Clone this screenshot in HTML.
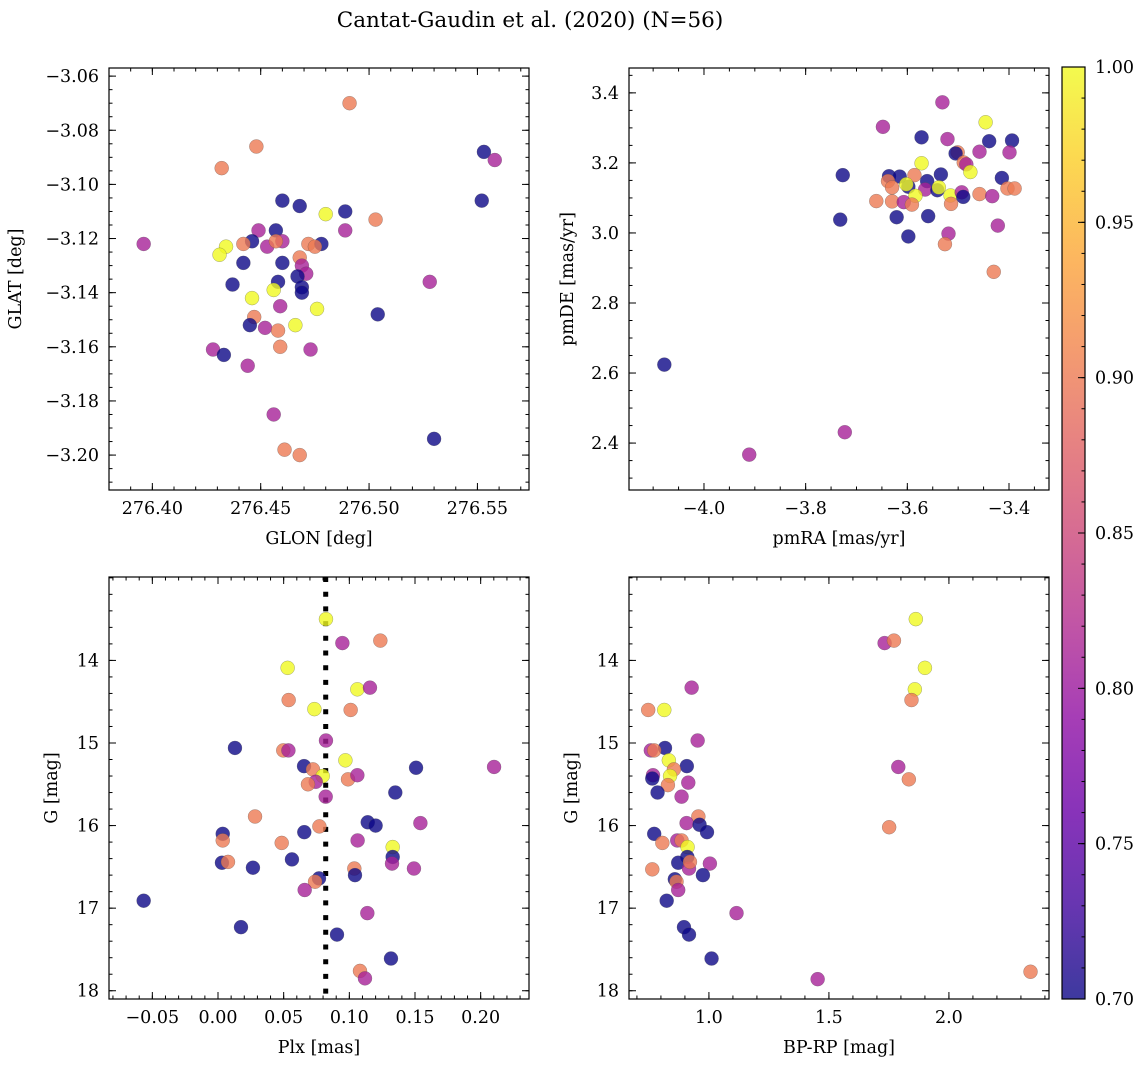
<!DOCTYPE html>
<html><head><meta charset="utf-8">
<style>
html,body{margin:0;padding:0;background:#fff;}
svg{display:block;font-family:"DejaVu Serif","Liberation Serif",serif;}
</style></head>
<body>
<svg id="fig" width="1148" height="1067" viewBox="0 0 1148 1067" xmlns="http://www.w3.org/2000/svg">
<defs>
<linearGradient id="plasma" x1="0" y1="1" x2="0" y2="0">
<stop offset="0" stop-color="#0d0887" stop-opacity="0.8"/>
<stop offset="0.1" stop-color="#41049d" stop-opacity="0.8"/>
<stop offset="0.2" stop-color="#6a00a8" stop-opacity="0.8"/>
<stop offset="0.3" stop-color="#8f0da4" stop-opacity="0.8"/>
<stop offset="0.4" stop-color="#b12a90" stop-opacity="0.8"/>
<stop offset="0.5" stop-color="#cc4778" stop-opacity="0.8"/>
<stop offset="0.6" stop-color="#e16462" stop-opacity="0.8"/>
<stop offset="0.7" stop-color="#f2844b" stop-opacity="0.8"/>
<stop offset="0.8" stop-color="#fca636" stop-opacity="0.8"/>
<stop offset="0.9" stop-color="#fcce25" stop-opacity="0.8"/>
<stop offset="1" stop-color="#f0f921" stop-opacity="0.8"/>
</linearGradient>
</defs>
<text x="530" y="27" font-size="21.5" text-anchor="middle">Cantat-Gaudin et al. (2020) (N=56)</text>
</svg>
<script>
// ---------- data ----------
const B=0.70,M=0.81,S=0.90,Y=1.0;
// Panel 1: GLON vs GLAT
const p1Glon=[276.491,276.448,276.432,276.553,276.558,276.552,276.460,276.468,276.480,276.489,276.503,276.489,276.449,276.457,276.396,276.446,276.442,276.453,276.460,276.457,276.434,276.431,276.472,276.478,276.475,276.442,276.460,276.468,276.469,276.471,276.437,276.458,276.467,276.469,276.469,276.456,276.446,276.528,276.459,276.476,276.504,276.447,276.445,276.452,276.466,276.458,276.459,276.473,276.428,276.433,276.444,276.456,276.530,276.461,276.468];
const p1Glat=[-3.070,-3.086,-3.094,-3.088,-3.091,-3.106,-3.106,-3.108,-3.111,-3.110,-3.113,-3.117,-3.117,-3.117,-3.122,-3.121,-3.122,-3.123,-3.121,-3.121,-3.123,-3.126,-3.122,-3.122,-3.123,-3.129,-3.129,-3.127,-3.130,-3.133,-3.137,-3.136,-3.134,-3.138,-3.140,-3.139,-3.142,-3.136,-3.145,-3.146,-3.148,-3.149,-3.152,-3.153,-3.152,-3.154,-3.160,-3.161,-3.161,-3.163,-3.167,-3.185,-3.194,-3.198,-3.200];
const p1Prob=[S,S,S,B,M,B,B,B,Y,B,S,M,M,B,M,B,S,M,M,S,Y,Y,S,B,S,B,B,S,M,M,B,B,B,B,B,Y,Y,M,M,Y,B,S,B,M,Y,S,S,M,M,B,M,M,B,S,S];
// Panel 2: pmRA vs pmDE
const p2Pmra=[-3.531,-3.648,-3.446,-3.572,-3.521,-3.439,-3.394,-3.501,-3.505,-3.458,-3.399,-3.572,-3.489,-3.484,-3.476,-3.727,-3.636,-3.615,-3.586,-3.534,-3.414,-3.638,-3.561,-3.630,-3.598,-3.602,-3.565,-3.541,-3.538,-3.403,-3.389,-3.584,-3.515,-3.493,-3.490,-3.458,-3.433,-3.661,-3.630,-3.607,-3.591,-3.514,-3.621,-3.559,-3.732,-3.422,-3.519,-3.598,-3.526,-3.430,-4.078,-3.723,-3.911];
const p2Pmde=[3.373,3.303,3.316,3.273,3.268,3.262,3.264,3.230,3.227,3.232,3.230,3.199,3.201,3.196,3.174,3.165,3.162,3.161,3.165,3.167,3.157,3.148,3.148,3.130,3.132,3.139,3.124,3.122,3.130,3.127,3.127,3.106,3.107,3.116,3.103,3.111,3.105,3.091,3.090,3.088,3.081,3.083,3.045,3.048,3.038,3.021,2.998,2.990,2.968,2.889,2.624,2.431,2.367];
const p2Prob=[M,M,Y,B,M,B,B,S,B,M,M,Y,S,M,Y,B,B,B,S,B,B,S,B,S,B,Y,M,B,Y,S,S,Y,Y,M,B,S,M,S,S,M,S,S,B,B,B,M,M,B,S,S,B,M,M];
// Panel 3: Plx vs G
const p3Plx=[0.0822,0.0947,0.1236,0.0530,0.1061,0.1157,0.0538,0.0734,0.1010,0.0822,0.0129,0.0497,0.0536,0.0970,0.0655,0.0723,0.1508,0.2102,0.0797,0.0744,0.0685,0.0990,0.1061,0.0820,0.1350,0.0282,0.1140,0.1200,0.1541,0.0036,0.0036,0.0657,0.0772,0.0485,0.1063,0.1330,0.1330,0.1325,0.0563,0.0030,0.0076,0.0266,0.1492,0.1038,0.1043,0.0769,0.0739,0.0660,-0.0566,0.1137,0.0175,0.0906,0.1317,0.1081,0.1119];
const p3G=[13.50,13.79,13.76,14.09,14.35,14.33,14.48,14.59,14.60,14.97,15.06,15.09,15.09,15.21,15.28,15.32,15.30,15.29,15.40,15.47,15.50,15.44,15.39,15.65,15.60,15.89,15.96,16.00,15.97,16.10,16.18,16.08,16.01,16.21,16.18,16.26,16.38,16.46,16.41,16.45,16.44,16.51,16.52,16.52,16.60,16.64,16.68,16.78,16.91,17.06,17.23,17.32,17.61,17.76,17.85];
const p3Prob=[Y,M,S,Y,Y,M,S,Y,S,M,B,S,M,Y,B,S,B,M,Y,M,S,S,M,M,B,S,B,B,M,B,S,B,S,S,M,Y,B,M,B,B,S,B,M,S,B,B,S,M,B,M,B,B,B,S,M];
// Panel 4: BP-RP vs G
const p4Bprp=[1.862,1.732,1.771,1.900,0.928,1.858,1.844,0.747,0.814,0.953,0.817,0.758,0.772,0.833,0.908,1.789,0.854,0.767,0.764,0.838,1.833,0.829,0.914,0.786,0.886,0.956,0.907,0.961,0.992,1.751,0.772,0.806,0.868,0.886,0.911,0.910,0.872,0.917,0.921,1.004,0.764,0.975,0.858,0.865,0.872,0.824,1.115,0.896,0.917,1.011,1.453,2.340];
const p4G=[13.50,13.79,13.76,14.09,14.33,14.35,14.48,14.60,14.60,14.97,15.06,15.09,15.09,15.21,15.28,15.29,15.32,15.39,15.43,15.40,15.44,15.51,15.48,15.60,15.65,15.89,15.97,15.99,16.08,16.02,16.10,16.21,16.18,16.18,16.26,16.38,16.45,16.52,16.44,16.46,16.53,16.60,16.65,16.68,16.78,16.91,17.06,17.23,17.32,17.61,17.86,17.77];
const p4Prob=[Y,M,S,Y,M,Y,S,S,Y,M,B,M,S,Y,B,M,S,M,B,Y,S,S,M,B,M,S,M,B,B,S,B,S,M,S,Y,B,B,M,S,M,S,B,B,S,M,B,M,B,B,B,M,S];
// tick values
const p1XTicks=[276.40,276.45,276.50,276.55];
const p1YTicks=[-3.06,-3.08,-3.10,-3.12,-3.14,-3.16,-3.18,-3.20];
const p2XTicks=[-4.0,-3.8,-3.6,-3.4];
const p2YTicks=[2.4,2.6,2.8,3.0,3.2,3.4];
const p3XTicks=[-0.05,0.00,0.05,0.10,0.15,0.20];
const gTicks=[14,15,16,17,18];
const p4XTicks=[1.0,1.5,2.0];
const cbTicks=[0.70,0.75,0.80,0.85,0.90,0.95,1.00];
const plxCut=0.082;

// ---------- helpers ----------
const NS="http://www.w3.org/2000/svg";
const svg=document.getElementById('fig');
const FS=17.5;
function el(tag,attrs,parent){const e=document.createElementNS(NS,tag);for(const k in attrs)e.setAttribute(k,attrs[k]);(parent||svg).appendChild(e);return e;}
const stops=[[13,8,135],[65,4,157],[106,0,168],[143,13,164],[177,42,144],[204,71,120],[225,100,98],[242,132,75],[252,166,54],[252,206,37],[240,249,33]];
function plasma(t){t=Math.max(0,Math.min(1,t));const f=t*10,i=Math.min(9,Math.floor(f)),u=f-i;const a=stops[i],b=stops[i+1];return 'rgb('+a.map((v,k)=>Math.round(v+(b[k]-v)*u)).join(',')+')';}
function fmtMinus(s){return s.replace('-','\u2212');}

function panel(cfg){
  const g=el('g',{});
  
  
  const sx=v=>cfg.x0+(v-cfg.xmin)/(cfg.xmax-cfg.xmin)*cfg.w;
  const sy=cfg.invert?(v=>cfg.y0+(v-cfg.ymin)/(cfg.ymax-cfg.ymin)*cfg.h):(v=>cfg.y0+cfg.h-(v-cfg.ymin)/(cfg.ymax-cfg.ymin)*cfg.h);
  const tg=el('g',{stroke:'#000','stroke-width':1},g);
  
  
  for(let v=Math.ceil(cfg.xmin/cfg.xminor)*cfg.xminor;v<=cfg.xmax;v+=cfg.xminor){const x=sx(v);
    el('line',{x1:x,x2:x,y1:cfg.y0+cfg.h,y2:cfg.y0+cfg.h-3.5},tg);el('line',{x1:x,x2:x,y1:cfg.y0,y2:cfg.y0+3.5},tg);}
  for(let v=Math.ceil(cfg.ymin/cfg.yminor)*cfg.yminor;v<=cfg.ymax;v+=cfg.yminor){const y=sy(v);
    el('line',{x1:cfg.x0,x2:cfg.x0+3.5,y1:y,y2:y},tg);el('line',{x1:cfg.x0+cfg.w,x2:cfg.x0+cfg.w-3.5,y1:y,y2:y},tg);}
  cfg.xt.forEach(v=>{const x=sx(v);
    el('line',{x1:x,x2:x,y1:cfg.y0+cfg.h,y2:cfg.y0+cfg.h-7},tg);el('line',{x1:x,x2:x,y1:cfg.y0,y2:cfg.y0+7},tg);
    const t=el('text',{x:x,y:cfg.y0+cfg.h+24,'font-size':FS,'text-anchor':'middle'},g);
    
    
    t.textContent=fmtMinus(v.toFixed(cfg.xdec));});
  cfg.yt.forEach(v=>{const y=sy(v);
    el('line',{x1:cfg.x0,x2:cfg.x0+7,y1:y,y2:y},tg);el('line',{x1:cfg.x0+cfg.w,x2:cfg.x0+cfg.w-7,y1:y,y2:y},tg);
    const t=el('text',{x:cfg.x0-10,y:y+6,'font-size':FS,'text-anchor':'end'},g);
    
    
    t.textContent=fmtMinus(v.toFixed(cfg.ydec));});
  if(cfg.vline!==undefined){const x=sx(cfg.vline);
    const l=el('line',{x1:x,x2:x,y1:cfg.y0,y2:cfg.y0+cfg.h,stroke:'#000','stroke-width':5,'stroke-dasharray':'5 9.7'},g);
    
    }
  const pg=el('g',{},g);
  
  
  for(let i=0;i<cfg.xs.length;i++){
    const c=el('circle',{cx:sx(cfg.xs[i]),cy:sy(cfg.ys[i]),r:7,fill:plasma((cfg.cs[i]-0.7)/0.3),'fill-opacity':0.8,stroke:'rgba(80,80,80,0.5)','stroke-width':0.5},pg);
    
    
  }
  const fr=el('rect',{x:cfg.x0,y:cfg.y0,width:cfg.w,height:cfg.h,fill:'none',stroke:'#000','stroke-width':1.2},g);
  
  
  const xl=el('text',{x:cfg.x0+cfg.w/2,y:cfg.y0+cfg.h+54,'font-size':FS,'text-anchor':'middle'},g);
  
  
  xl.textContent=cfg.xlabel;
  const yx=cfg.ylx,yy=cfg.y0+cfg.h/2;
  const yl=el('text',{x:yx,y:yy,'font-size':FS,'text-anchor':'middle',transform:'rotate(-90 '+yx+' '+yy+')'},g);
  
  
  yl.textContent=cfg.ylabel;
}

panel({name:'glon-glat-panel',x0:109,y0:68,w:420,h:422,xmin:276.380,xmax:276.5738,ymin:-3.2129,ymax:-3.0570,xminor:0.01,yminor:0.005,xt:p1XTicks,yt:p1YTicks,xdec:2,ydec:2,xs:p1Glon,ys:p1Glat,cs:p1Prob,xlabel:'GLON [deg]',ylabel:'GLAT [deg]',ylx:21});
panel({name:'proper-motion-panel',x0:629,y0:68,w:420,h:422,xmin:-4.1475,xmax:-3.3213,ymin:2.266,ymax:3.471,xminor:0.05,yminor:0.05,xt:p2XTicks,yt:p2YTicks,xdec:1,ydec:1,xs:p2Pmra,ys:p2Pmde,cs:p2Prob,xlabel:'pmRA [mas/yr]',ylabel:'pmDE [mas/yr]',ylx:573});
panel({name:'parallax-g-panel',x0:109,y0:577,w:420,h:422,xmin:-0.0830,xmax:0.2368,ymin:12.99,ymax:18.10,invert:true,xminor:0.01,yminor:0.2,xt:p3XTicks,yt:gTicks,xdec:2,ydec:0,xs:p3Plx,ys:p3G,cs:p3Prob,xlabel:'Plx [mas]',ylabel:'G [mag]',ylx:57,vline:plxCut});
panel({name:'cmd-panel',x0:629,y0:577,w:420,h:422,xmin:0.667,xmax:2.417,ymin:12.99,ymax:18.10,invert:true,xminor:0.1,yminor:0.2,xt:p4XTicks,yt:gTicks,xdec:1,ydec:0,xs:p4Bprp,ys:p4G,cs:p4Prob,xlabel:'BP-RP [mag]',ylabel:'G [mag]',ylx:577});

// colorbar
(function(){
  const x0=1062,y0=67,w=23,h=932,vmin=0.7,vmax=1.0;
  const g=el('g',{});
  
  
  el('rect',{x:x0,y:y0,width:w,height:h,fill:'url(#plasma)'},g);
  el('rect',{x:x0,y:y0,width:w,height:h,fill:'none',stroke:'#000','stroke-width':1.2},g);
  const sy=v=>y0+h-(v-vmin)/(vmax-vmin)*h;
  for(let v=vmin;v<=vmax+1e-9;v+=0.01){const y=sy(v);el('line',{x1:x0+w,x2:x0+w-3.5,y1:y,y2:y,stroke:'#000'},g);}
  cbTicks.forEach(v=>{const y=sy(v);
    el('line',{x1:x0+w,x2:x0+w-7,y1:y,y2:y,stroke:'#000'},g);
    const t=el('text',{x:x0+w+10,y:y+6,'font-size':FS},g);
    
    
    t.textContent=v.toFixed(2);});
})();
</script>
</body></html>
